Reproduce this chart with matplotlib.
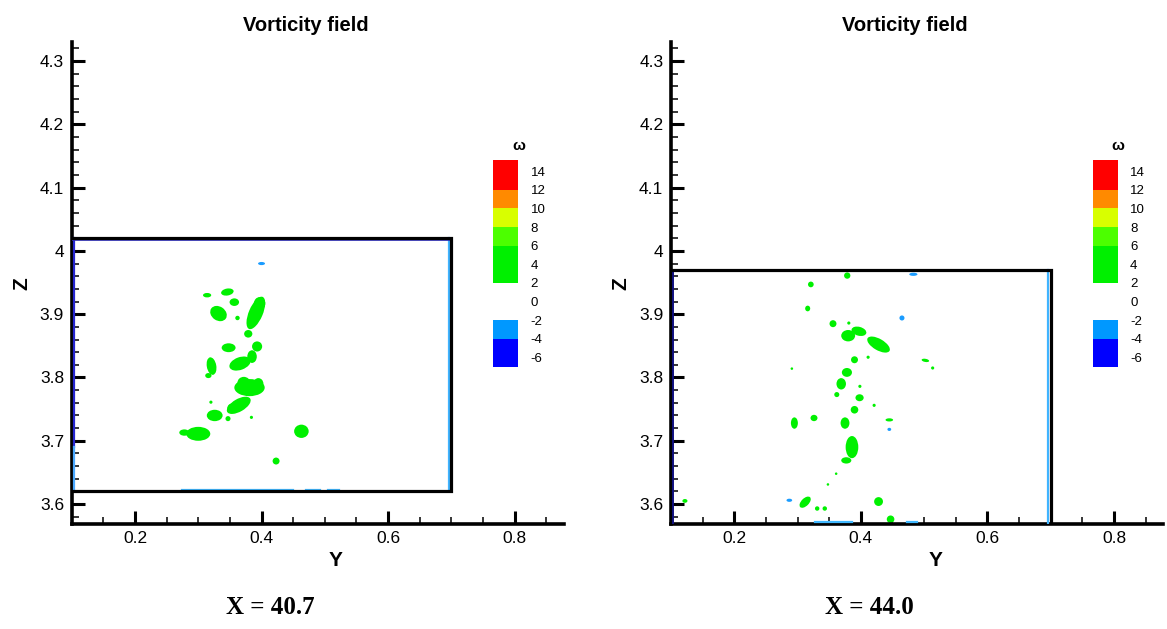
import matplotlib
matplotlib.use("Agg")
import matplotlib.pyplot as plt
from matplotlib.patches import Ellipse
from matplotlib.ticker import MultipleLocator

plt.rcParams['font.family'] = ['Liberation Sans', 'DejaVu Sans']

W, H = 1167, 629

# axis ranges and ticks
y_range = (0.1, 0.878)
z_range = (3.569, 4.33)

# panel captions
captions = ['X = 40.7', 'X = 44.0']

# domain boundary: top z of the box, right edge y
box_top = [4.02, 3.97]
box_bottom = [3.62, None]
box_right = 0.7

# vorticity legend
levels_lo = [12, 10, 8, 6, 2, -4, -7]
levels_hi = [15.2, 12, 10, 8, 6, -2, -4]
level_colors = ['#ff0000', '#ff8a00', '#d8ff00', '#4cff00', '#00f000', '#0098ff', '#0000ff']
legend_labels = [14, 12, 10, 8, 6, 4, 2, 0, -2, -4, -6]

# vortex patches, panel X = 40.7  (y, z, width, height, angle)
l_y = [0.314, 0.346, 0.357, 0.332, 0.362, 0.391, 0.379, 0.348, 0.393, 0.366, 0.385,
       0.321, 0.316, 0.381, 0.364, 0.326, 0.347, 0.384, 0.320, 0.300, 0.278, 0.463, 0.423,
       0.372, 0.397, 0.354, 0.395]
l_z = [3.930, 3.935, 3.919, 3.901, 3.894, 3.902, 3.869, 3.847, 3.849, 3.822, 3.833,
       3.818, 3.803, 3.784, 3.756, 3.740, 3.735, 3.737, 3.761, 3.711, 3.713, 3.715, 3.668,
       3.792, 3.917, 3.752, 3.790]
l_w = [0.013, 0.020, 0.015, 0.028, 0.007, 0.055, 0.013, 0.022, 0.016, 0.035, 0.015,
       0.015, 0.010, 0.048, 0.042, 0.025, 0.008, 0.005, 0.005, 0.038, 0.016, 0.023, 0.011,
       0.020, 0.018, 0.016, 0.016]
l_h = [0.007, 0.011, 0.012, 0.022, 0.007, 0.022, 0.012, 0.014, 0.016, 0.020, 0.020,
       0.028, 0.008, 0.027, 0.020, 0.018, 0.008, 0.005, 0.005, 0.022, 0.010, 0.021, 0.011,
       0.018, 0.020, 0.014, 0.018]
l_a = [0, 10, 0, -35, 0, 67, 0, 0, 0, 20, 0,
       10, 0, 0, 30, 0, 0, 0, 0, 0, 0, 0, 0,
       0, 0, 0, 0]
# negative spots, panel X = 40.7
ln_y = [0.400]
ln_z = [3.980]
ln_w = [0.011]
ln_h = [0.005]

# vortex patches, panel X = 44.0
r_y = [0.3785, 0.321, 0.316, 0.356, 0.381, 0.380, 0.397, 0.428, 0.4115, 0.390, 0.378,
       0.369, 0.291, 0.502, 0.5135, 0.362, 0.3985, 0.398, 0.390, 0.421, 0.295, 0.326,
       0.375, 0.445, 0.386, 0.377, 0.361, 0.348, 0.312, 0.331, 0.343, 0.428, 0.447, 0.122]
r_z = [3.961, 3.947, 3.909, 3.885, 3.886, 3.866, 3.873, 3.852, 3.832, 3.828, 3.808,
       3.790, 3.814, 3.827, 3.815, 3.773, 3.786, 3.768, 3.749, 3.756, 3.728, 3.736,
       3.728, 3.733, 3.690, 3.669, 3.648, 3.631, 3.603, 3.593, 3.593, 3.604, 3.576, 3.605]
r_w = [0.010, 0.009, 0.008, 0.011, 0.005, 0.022, 0.024, 0.040, 0.005, 0.011, 0.016,
       0.015, 0.004, 0.012, 0.005, 0.008, 0.005, 0.013, 0.012, 0.005, 0.011, 0.011,
       0.014, 0.012, 0.020, 0.016, 0.004, 0.004, 0.022, 0.007, 0.007, 0.014, 0.012, 0.008]
r_h = [0.010, 0.009, 0.009, 0.011, 0.005, 0.018, 0.014, 0.018, 0.005, 0.011, 0.014,
       0.018, 0.004, 0.005, 0.005, 0.008, 0.005, 0.011, 0.012, 0.005, 0.018, 0.010,
       0.018, 0.005, 0.035, 0.010, 0.004, 0.004, 0.012, 0.007, 0.007, 0.014, 0.012, 0.006]
r_a = [0, 0, 0, 0, 0, 0, -15, -30, 0, 0, 0,
       0, 0, -10, 0, 0, 0, 0, 0, 0, 0, 0,
       0, 0, 0, 0, 0, 0, 45, 0, 0, 0, 0, 0]
# negative spots, panel X = 44.0
rn_y = [0.483, 0.465, 0.445, 0.287]
rn_z = [3.963, 3.894, 3.718, 3.606]
rn_w = [0.013, 0.008, 0.006, 0.009]
rn_h = [0.005, 0.008, 0.005, 0.005]

# weak negative layers along the walls (y start, y end)
l_wall_bottom = [(0.275, 0.449), (0.471, 0.493), (0.505, 0.523)]
r_wall_bottom = [(0.327, 0.386), (0.473, 0.489)]

fig = plt.figure(figsize=(W / 100, H / 100), dpi=100)

panels = [
    dict(x0=71.7, blobs=(l_y, l_z, l_w, l_h, l_a), neg=(ln_y, ln_z, ln_w, ln_h),
         wall=l_wall_bottom),
    dict(x0=671.0, blobs=(r_y, r_z, r_w, r_h, r_a), neg=(rn_y, rn_z, rn_w, rn_h),
         wall=r_wall_bottom),
]

for i, p in enumerate(panels):
    x0 = p['x0']
    ax = fig.add_axes([x0 / W, 1 - 523.7 / H, 492.3 / W, 481.7 / H])
    ax.set_xlim(*y_range)
    ax.set_ylim(*z_range)
    for s in ['top', 'right']:
        ax.spines[s].set_visible(False)
    for s in ['left', 'bottom']:
        ax.spines[s].set_linewidth(2.6)
    ax.xaxis.set_major_locator(MultipleLocator(0.2))
    ax.xaxis.set_minor_locator(MultipleLocator(0.05))
    ax.yaxis.set_major_locator(MultipleLocator(0.1))
    ax.yaxis.set_minor_locator(MultipleLocator(0.02))
    ax.tick_params(which='major', direction='in', length=9.5, width=2.2,
                   labelsize=12.5, pad=5.5)
    ax.tick_params(which='minor', direction='in', length=5, width=1.1)
    ax.set_xticks([0.2, 0.4, 0.6, 0.8])
    ax.set_xticklabels(['0.2', '0.4', '0.6', '0.8'])
    ax.set_yticks([3.6, 3.7, 3.8, 3.9, 4.0, 4.1, 4.2, 4.3])
    ax.set_yticklabels(['3.6', '3.7', '3.8', '3.9', '4', '4.1', '4.2', '4.3'])

    by, bz, bw, bh, ba = p['blobs']
    for yy, zz, ww, hh, aa in zip(by, bz, bw, bh, ba):
        ax.add_patch(Ellipse((yy, zz), ww, hh, angle=aa, color='#00f000', lw=0, zorder=2))
    ny, nz, nw, nh = p['neg']
    for yy, zz, ww, hh in zip(ny, nz, nw, nh):
        ax.add_patch(Ellipse((yy, zz), ww, hh, color='#1a9cff', lw=0, zorder=2))

    top = box_top[i]
    bot = box_bottom[i] if box_bottom[i] is not None else z_range[0]
    # wall layers
    ax.plot([box_right - 0.0035] * 2, [bot, top], color='#40b4ff', lw=1.6, zorder=3)
    if i == 0:
        ax.plot([0.1035] * 2, [3.69, top], color='#2626d0', lw=1.6, zorder=3)
        ax.plot([0.1035] * 2, [bot, 3.69], color='#4aa8ff', lw=1.6, zorder=3)
        ax.plot([0.1, box_right], [top - 0.0035] * 2, color='#3030c0', lw=1.2, zorder=3)
    else:
        ax.plot([0.1025] * 2, [z_range[0], top], color='#101080', lw=1.4, zorder=3)
    for y1, y2 in p['wall']:
        ax.plot([y1, y2], [bot + 0.003] * 2, color='#40b8ff', lw=1.6, zorder=3)

    # domain boundary
    if box_bottom[i] is not None:
        ax.plot([0.1, box_right, box_right, 0.1], [top, top, bot, bot],
                color='black', lw=2.3, zorder=4, solid_joinstyle='miter')
    else:
        ax.plot([0.1, box_right, box_right], [top, top, z_range[0]],
                color='black', lw=2.3, zorder=4, solid_joinstyle='miter')

    dx = x0 - 71.7
    fig.text((305.7 + dx) / W, 1 - 30.7 / H, 'Vorticity field', ha='center',
             va='baseline', fontsize=14.5, fontweight='bold')
    fig.text((336 + dx) / W, 1 - 566 / H, 'Y', ha='center', va='baseline',
             fontsize=15, fontweight='bold')
    fig.text((22 + dx) / W, 1 - 284 / H, 'Z', ha='center', va='center',
             rotation=90, fontsize=15, fontweight='bold')
    fig.text((270 + dx) / W, 1 - 614 / H, captions[i], ha='center', va='baseline',
             fontsize=18, fontweight='bold', family='Liberation Serif')

    # legend
    cax = fig.add_axes([(493.3 + dx) / W, 1 - 366.7 / H, 25 / W, 206.7 / H])
    cax.bar([0] * len(levels_lo), [h - l for l, h in zip(levels_lo, levels_hi)],
            bottom=levels_lo, width=1.0, color=level_colors, align='edge')
    cax.set_xlim(0, 1)
    cax.set_ylim(-7, 15.2)
    for s in cax.spines.values():
        s.set_visible(False)
    cax.set_xticks([])
    cax.yaxis.tick_right()
    cax.set_yticks(legend_labels)
    cax.set_yticklabels([str(v) for v in legend_labels])
    cax.tick_params(axis='y', length=0, pad=9, labelsize=9.5)
    fig.text((519 + dx) / W, 1 - 146 / H, 'ω', ha='center', va='center',
             fontsize=11, fontweight='bold')

fig.savefig('out.png', dpi=100)
